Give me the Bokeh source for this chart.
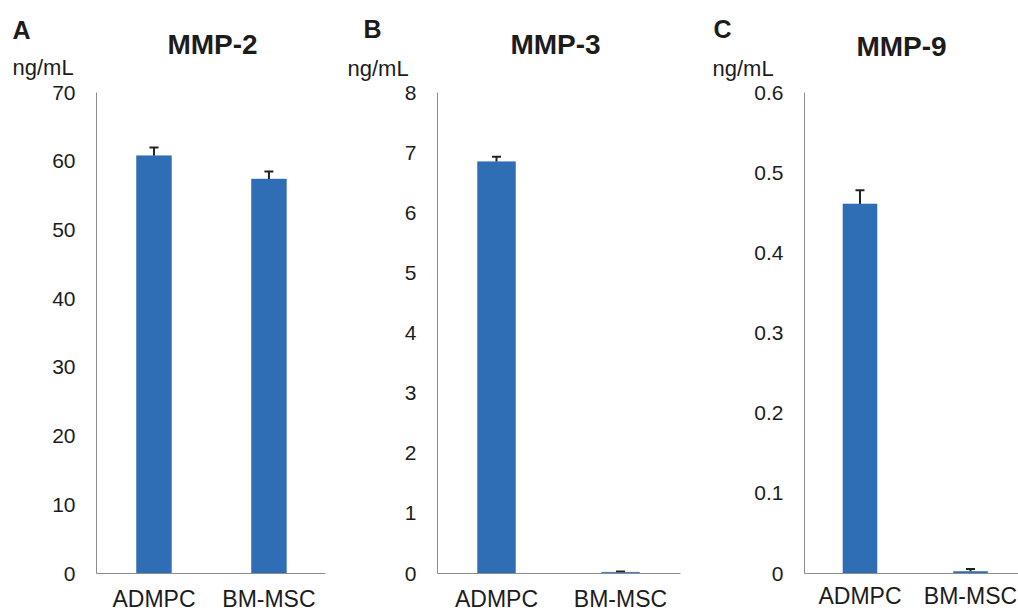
from bokeh.plotting import figure
from bokeh.models import Range1d, FixedTicker, ColumnDataSource, Whisker, TeeHead
from bokeh.layouts import row, column
from bokeh.core.properties import value
from bokeh.embed import file_html
from bokeh.resources import INLINE

categories = ["ADMPC", "BM-MSC"]
positions = [0, 1]

mmp2_values = [60.8, 57.4]
mmp2_errors = [1.2, 1.1]
mmp3_values = [6.85, 0.02]
mmp3_errors = [0.08, 0.012]
mmp9_values = [0.461, 0.0025]
mmp9_errors = [0.017, 0.003]

mmp2_ticks = [0, 10, 20, 30, 40, 50, 60, 70]
mmp3_ticks = [0, 1, 2, 3, 4, 5, 6, 7, 8]
mmp9_ticks = [0, 0.1, 0.2, 0.3, 0.4, 0.5, 0.6]
mmp9_tick_labels = ["0", "0.1", "0.2", "0.3", "0.4", "0.5", "0.6"]

titles = ["MMP-2", "MMP-3", "MMP-9"]
letters = ["A", "B", "C"]
units = ["ng/mL", "ng/mL", "ng/mL"]

FONT = "Liberation Sans"
BAR = "#2F6DB5"
AXIS = "#8c8c8c"
TEXT = "#1c1c1c"
HEADER_H = 81
PAGE_W = 1018
PAGE_H = 615

# ---- header with panel letters, titles and units (page pixel coordinates) ----
header = figure(width=PAGE_W, height=HEADER_H, output_backend="svg", toolbar_location=None,
                x_range=Range1d(0, PAGE_W), y_range=Range1d(HEADER_H, 0),
                x_axis_type=None, y_axis_type=None, min_border=0,
                outline_line_color=None, background_fill_color="white", border_fill_color="white")
header.title = None
header.xgrid.visible = False
header.ygrid.visible = False
letter_x = [12, 363, 713]
letter_y = [29, 28, 28]
title_x = [212, 555, 901]
title_y = [44, 44, 46]
unit_x = [12, 347, 712]
unit_y = [67, 68, 68]
header.text(x=letter_x, y=letter_y, text=letters, text_font=value(FONT), text_font_size="25px",
            text_font_style="bold", text_color=TEXT, text_align="left", text_baseline="alphabetic")
header.text(x=title_x, y=title_y, text=titles, text_font=value(FONT), text_font_size="28px",
            text_font_style="bold", text_color=TEXT, text_align="center", text_baseline="alphabetic")
header.text(x=unit_x, y=unit_y, text=units, text_font=value(FONT), text_font_size="22px",
            text_color=TEXT, text_align="left", text_baseline="alphabetic")


def panel(values, errors, ticks, tick_labels, ymax, xr, width, bl, br, bt, bb, xstandoff, bar_w):
    p = figure(width=width, height=PAGE_H - HEADER_H, output_backend="svg", toolbar_location=None,
               x_range=Range1d(*xr), y_range=Range1d(0, ymax),
               min_border_left=bl, min_border_right=br, min_border_top=bt, min_border_bottom=bb,
               outline_line_color=None, background_fill_color="white", border_fill_color="white")
    p.title = None
    p.xgrid.visible = False
    p.ygrid.visible = False

    src = ColumnDataSource(dict(x=positions, top=values,
                                upper=[v + e for v, e in zip(values, errors)]))
    p.vbar(x="x", top="top", bottom=0, width=bar_w, source=src,
           fill_color=BAR, line_color=BAR, line_width=0.5)
    wh = Whisker(source=src, base="x", lower="top", upper="upper", dimension="height",
                 line_color="#222222", line_width=2,
                 upper_head=TeeHead(size=9, line_color="#222222", line_width=2),
                 lower_head=None)
    p.add_layout(wh)

    p.xaxis.ticker = FixedTicker(ticks=positions)
    p.xaxis.major_label_overrides = {pos: c for pos, c in zip(positions, categories)}
    p.yaxis.ticker = FixedTicker(ticks=ticks)
    if tick_labels is not None:
        p.yaxis.major_label_overrides = {t: l for t, l in zip(ticks, tick_labels)}
    for ax in (p.xaxis, p.yaxis):
        ax.axis_line_color = AXIS
        ax.axis_line_width = 1
        ax.major_tick_line_color = None
        ax.minor_tick_line_color = None
        ax.major_tick_out = 0
        ax.major_tick_in = 0
        ax.major_label_text_font = FONT
        ax.major_label_text_color = TEXT
    p.xaxis.major_label_text_font_size = "23px"
    p.xaxis.major_label_standoff = xstandoff
    p.yaxis.major_label_text_font_size = "21px"
    p.yaxis.major_label_standoff = 21
    return p


pA = panel(mmp2_values, mmp2_errors, mmp2_ticks, None, 70, (-0.5, 1.492), 348,
           96, 23, 9, 42, 12, 0.304)
pB = panel(mmp3_values, mmp3_errors, mmp3_ticks, None, 8, (-0.476, 1.484), 342,
           89, 10, 9, 42, 12, 0.306)
pC = panel(mmp9_values, mmp9_errors, mmp9_ticks, mmp9_tick_labels, 0.6, (-0.502, 1.4343), 328,
           114, 0, 11, 39, 9, 0.308)

layout = column(header, row(pA, pB, pC))
open("out.html", "w").write(file_html(layout, INLINE))
